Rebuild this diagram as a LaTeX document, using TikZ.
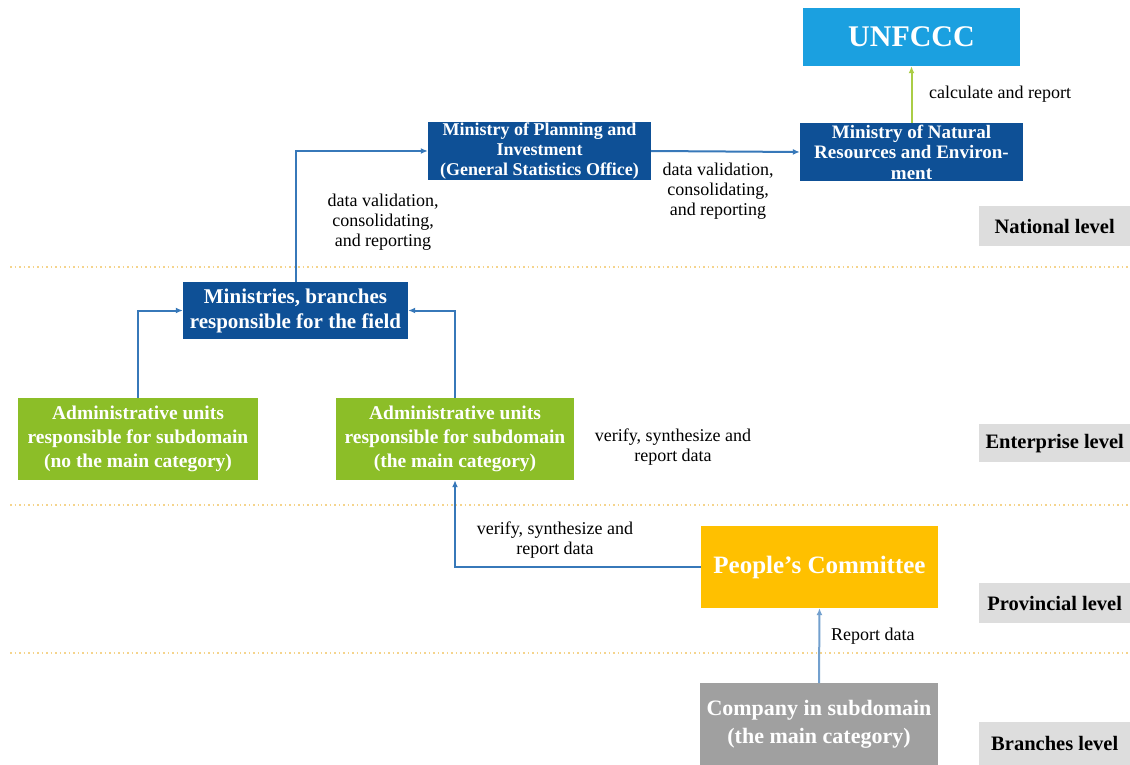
\documentclass[tikz,border=0pt]{standalone}
\usepackage{fontspec}
\setmainfont{Liberation Serif}
\usetikzlibrary{arrows.meta}
\definecolor{dblue}{RGB}{14,80,150}
\definecolor{lblue}{RGB}{27,160,224}
\definecolor{lgreen}{RGB}{140,190,40}
\definecolor{lyellow}{RGB}{255,192,0}
\definecolor{cgrey}{RGB}{160,160,160}
\definecolor{lvgrey}{RGB}{221,221,221}
\definecolor{arr}{RGB}{55,120,185}
\definecolor{dotc}{RGB}{245,212,140}
\definecolor{lime}{RGB}{170,205,70}
\tikzset{
  box/.style={draw=none, inner sep=0pt, text=white, align=center, font=\bfseries},
  lvl/.style={fill=lvgrey, inner sep=0pt, minimum width=151pt, minimum height=40pt, font=\bfseries\fontsize{20.5}{24}\selectfont, anchor=north west},
  lab/.style={align=center, font=\fontsize{18}{20}\selectfont, inner sep=0pt},
  conn/.style={draw=arr, line width=2pt, -{Latex[length=7pt,width=6pt]}},
  dotline/.style={draw=dotc, line width=2pt, dash pattern=on 1.5pt off 3pt},
}
\begin{document}
\begin{tikzpicture}[x=1pt,y=-1pt]
\useasboundingbox[fill=white] (0,0) rectangle (1130,765);
% dotted separators
\draw[dotline] (10,267) -- (1130,267);
\draw[dotline] (10,505) -- (1130,505);
\draw[dotline] (10,653) -- (1130,653);
% level labels
\node[lvl] (nat) at (979,206) {National level};
\node[lvl, minimum height=38pt] (ent) at (979,424) {Enterprise level};
\node[lvl] (prov) at (979,583) {Provincial level};
\node[lvl, minimum height=43pt] (bra) at (979,722) {Branches level};
% boxes
\node[box, fill=lblue, minimum width=217pt, minimum height=58pt, font=\bfseries\fontsize{30}{32}\selectfont] (unf) at (911.5,37) {UNFCCC};
\node[box, fill=dblue, minimum width=223pt, minimum height=58pt, font=\bfseries\fontsize{19}{20.5}\selectfont] (mnre) at (911.5,152) {Ministry of Natural\\Resources and Environ-\\ment};
\node[box, fill=dblue, minimum width=223pt, minimum height=58pt, font=\bfseries\fontsize{18}{20}\selectfont] (mpi) at (539.5,151) {Ministry of Planning and\\Investment\\(General Statistics Office)};
\node[box, fill=dblue, minimum width=225pt, minimum height=57pt, font=\bfseries\fontsize{21}{25}\selectfont] (min) at (295.5,310.5) {Ministries, branches\\responsible for the field};
\node[box, fill=lgreen, minimum width=240pt, minimum height=82pt, font=\bfseries\fontsize{19.5}{24}\selectfont] (adl) at (138,439) {Administrative units\\responsible for subdomain\\(no the main category)};
\node[box, fill=lgreen, minimum width=238pt, minimum height=82pt, font=\bfseries\fontsize{19.5}{24}\selectfont] (adr) at (455,439) {Administrative units\\responsible for subdomain\\(the main category)};
\node[box, fill=lyellow, minimum width=237pt, minimum height=82pt, font=\bfseries\fontsize{25}{28}\selectfont] (pc) at (819.5,567) {People’s Committee};
\node[box, fill=cgrey, minimum width=238pt, minimum height=82pt, font=\bfseries\fontsize{22}{28}\selectfont, anchor=north] (co) at (819,683) {Company in subdomain\\(the main category)};
% connectors
\draw[conn] (min.north) |- (mpi.west);
\draw[conn] (mpi.east) -- (mnre.west);
\draw[conn, draw=lime, -{Latex[length=7pt,width=6pt]}] (mnre.north) -- (unf.south);
\draw[conn] (adl.north) |- (min.west);
\draw[conn] (adr.north) |- (min.east);
\draw[conn] (pc.west) -| (adr.south);
\draw[conn, draw=arr!70] (co.north) -- (pc.south);
% labels
\node[lab] (l1) at (383,222) {data validation,\\consolidating,\\and reporting};
\node[lab] (l2) at (718,191) {data validation,\\consolidating,\\and reporting};
\node[lab, anchor=west] (l3) at (929,94) {calculate and report};
\node[lab] (l4) at (673,447) {verify, synthesize and\\report data};
\node[lab] (l5) at (555,540) {verify, synthesize and\\report data};
\node[lab, anchor=west] (l6) at (831,636) {Report data};
\end{tikzpicture}
\end{document}
